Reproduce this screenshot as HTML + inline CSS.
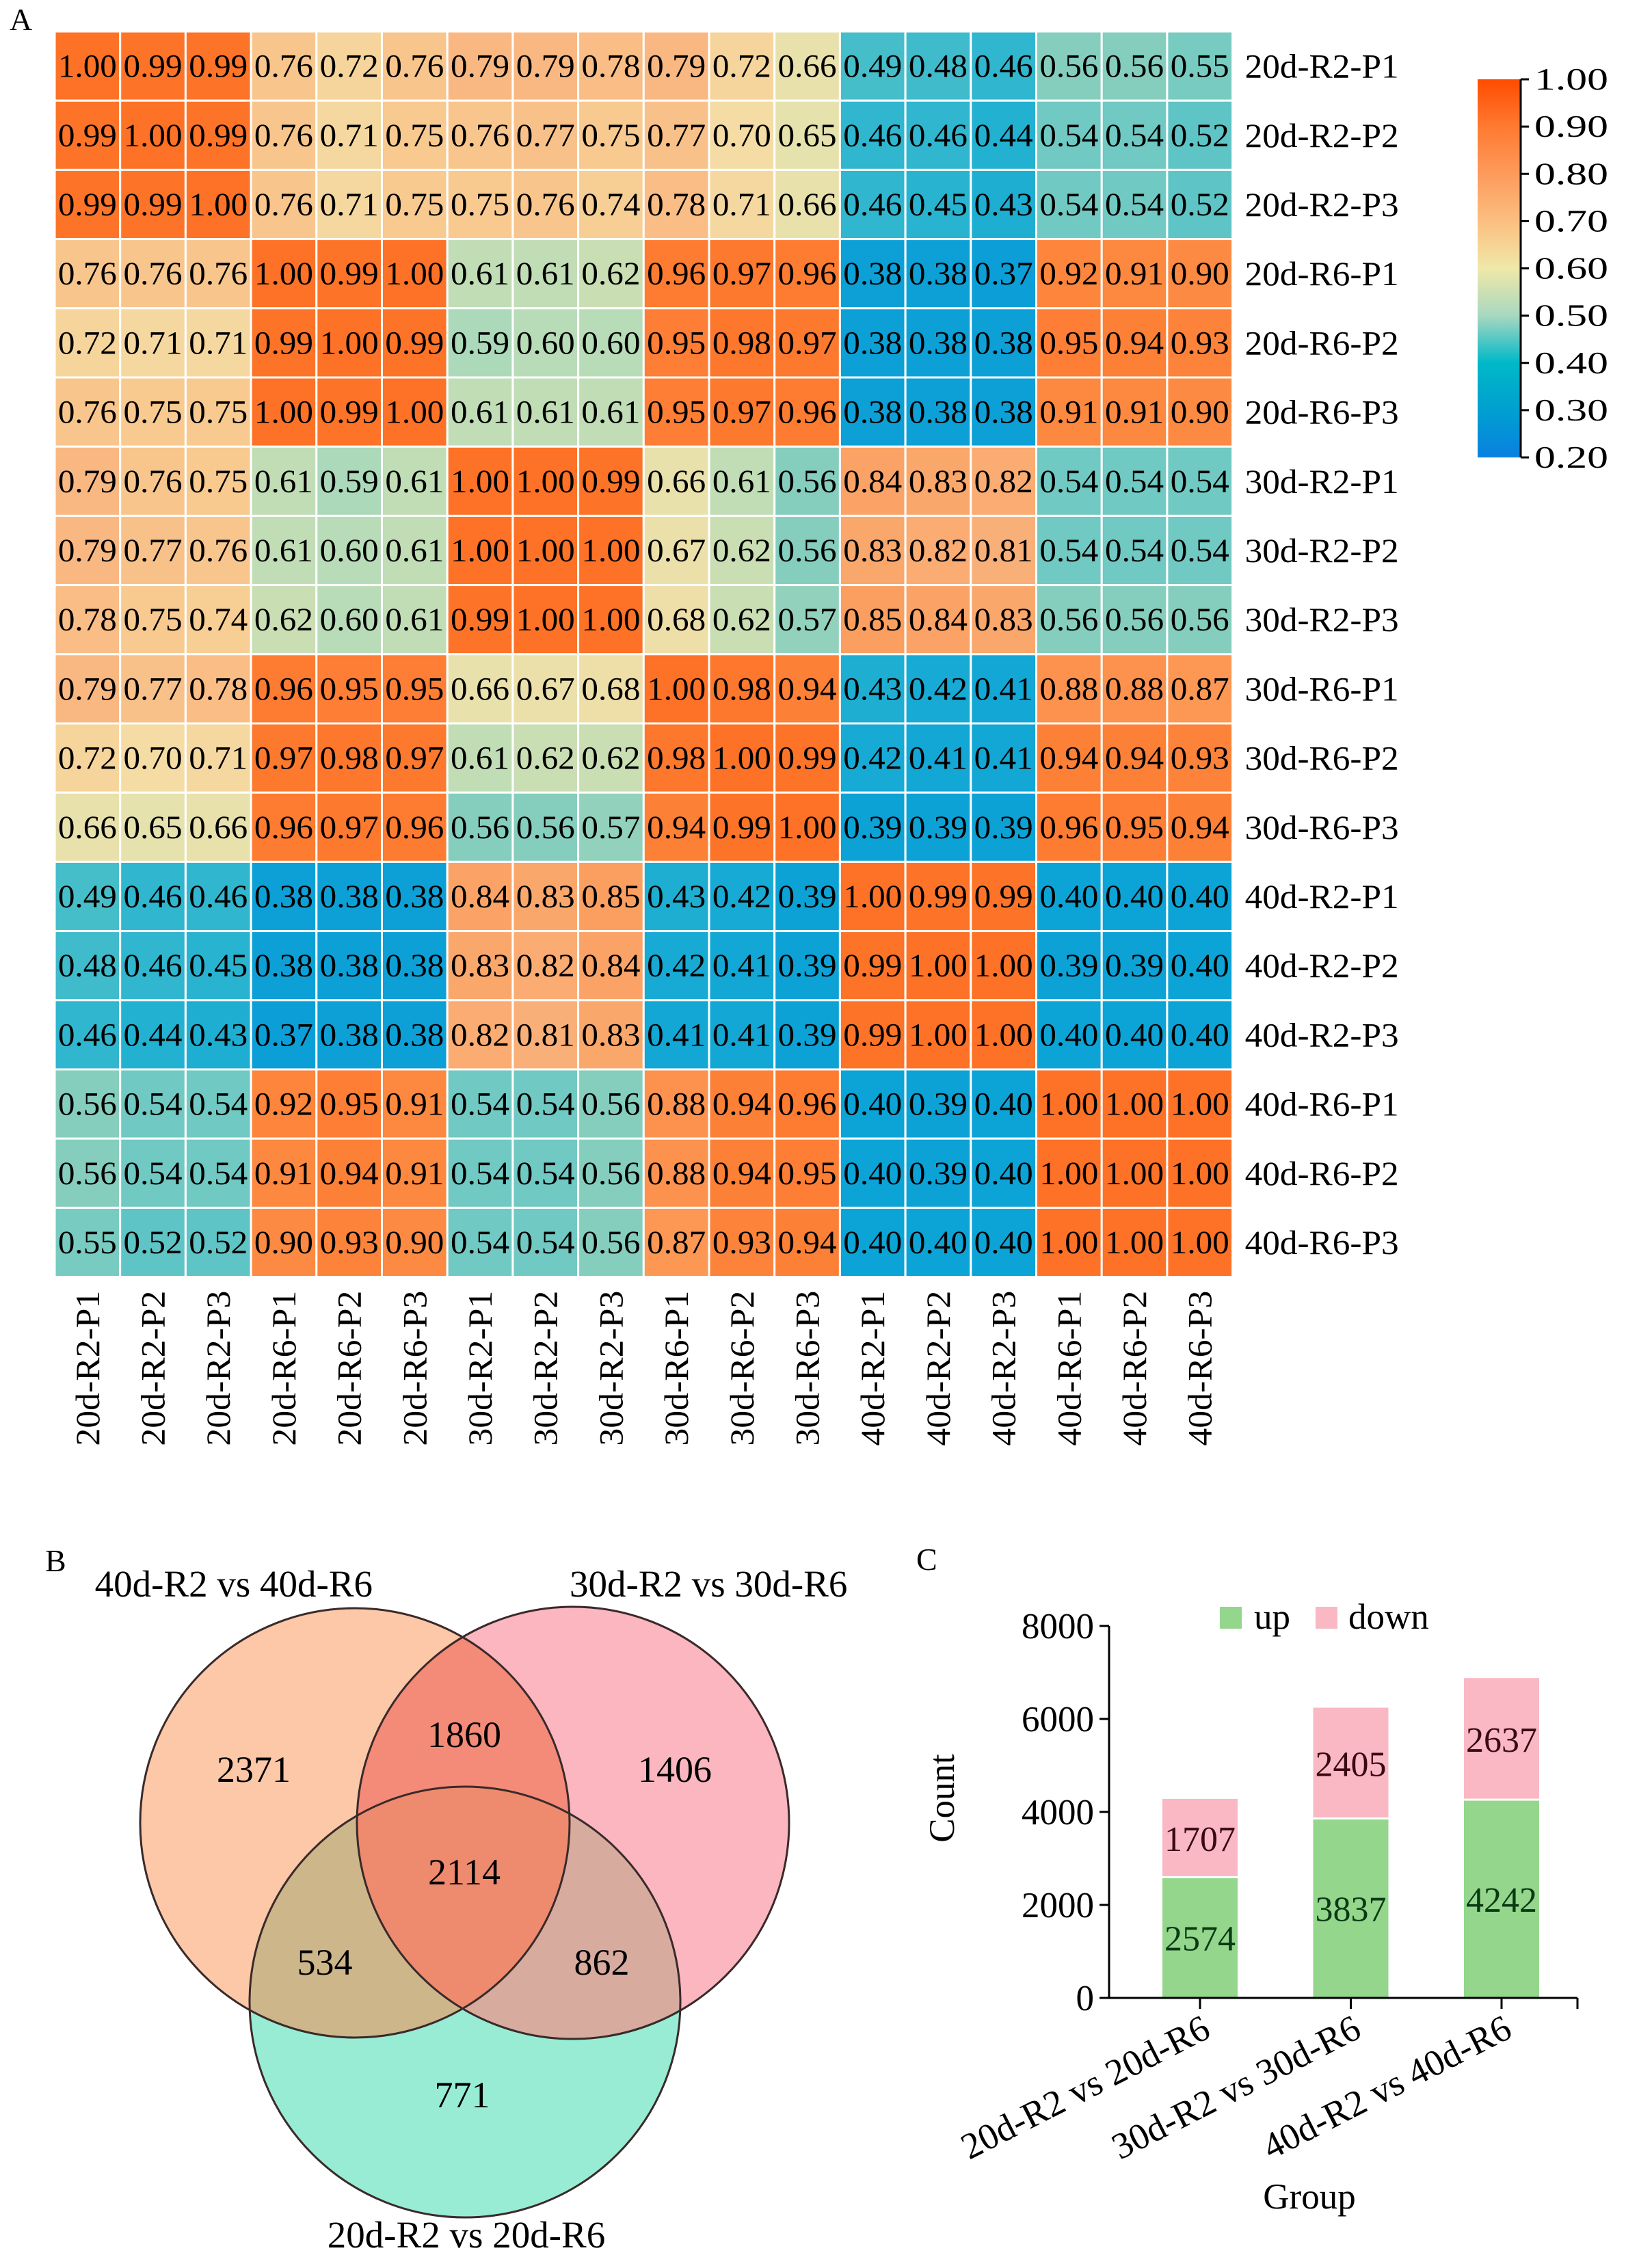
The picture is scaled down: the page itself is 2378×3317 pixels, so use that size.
<!DOCTYPE html>
<html><head><meta charset="utf-8"><style>
html,body{margin:0;padding:0;background:#fff}
svg{display:block;font-family:"Liberation Serif",serif}
</style></head><body>
<svg id="fig" width="2378" height="3317" viewBox="0 0 2378 3317" xmlns="http://www.w3.org/2000/svg">
<defs>
<linearGradient id="cbar" x1="0" y1="1" x2="0" y2="0">
<stop offset="0" stop-color="#0a80e0"/><stop offset="0.125" stop-color="#00a0d0"/><stop offset="0.25" stop-color="#00b8c8"/>
<stop offset="0.375" stop-color="#a8d8c0"/><stop offset="0.5" stop-color="#f0e8a8"/><stop offset="0.625" stop-color="#fbbf80"/>
<stop offset="0.75" stop-color="#fd9a5c"/><stop offset="0.875" stop-color="#ff7a30"/><stop offset="1" stop-color="#ff4c00"/>
</linearGradient>
<clipPath id="clipO"><circle cx="519" cy="2666" r="314"/></clipPath>
<clipPath id="clipP"><circle cx="838" cy="2666" r="316"/></clipPath>
</defs>
<text x="14" y="44" font-size="46">A</text>
<g id="heat"></g>
<g id="cb">
<rect x="2161" y="116" width="63" height="553" fill="url(#cbar)"/>
</g>
<g id="venn">
<text x="66" y="2298" font-size="46">B</text>
<circle cx="519" cy="2666" r="314" fill="#fcc8a8"/>
<circle cx="838" cy="2666" r="316" fill="#fbb6c0"/>
<circle cx="680" cy="2928" r="315" fill="#98ecd4"/>
<circle cx="838" cy="2666" r="316" fill="#f48a78" clip-path="url(#clipO)"/>
<circle cx="680" cy="2928" r="315" fill="#cdb68a" clip-path="url(#clipO)"/>
<circle cx="680" cy="2928" r="315" fill="#d8ab9f" clip-path="url(#clipP)"/>
<g clip-path="url(#clipP)"><circle cx="680" cy="2928" r="315" fill="#ee8a6e" clip-path="url(#clipO)"/></g>
<g fill="none" stroke="#3a2a2a" stroke-width="3">
<circle cx="519" cy="2666" r="314"/><circle cx="838" cy="2666" r="316"/><circle cx="680" cy="2928" r="315"/>
</g>
<g font-size="54" text-anchor="middle">
<text x="545" y="2335" font-size="55" text-anchor="end">40d-R2 vs 40d-R6</text>
<text x="833" y="2335" font-size="55" text-anchor="start">30d-R2 vs 30d-R6</text>
<text x="682" y="3287" font-size="55">20d-R2 vs 20d-R6</text>
<text x="371" y="2606">2371</text>
<text x="679" y="2555">1860</text>
<text x="987" y="2606">1406</text>
<text x="679" y="2756">2114</text>
<text x="475" y="2888">534</text>
<text x="880" y="2888">862</text>
<text x="676" y="3082">771</text>
</g>
</g>
<g id="bars">
<text x="1340" y="2296" font-size="46">C</text>
</g>
</svg>
<script>
const NS="http://www.w3.org/2000/svg";
const labels=["20d-R2-P1","20d-R2-P2","20d-R2-P3","20d-R6-P1","20d-R6-P2","20d-R6-P3","30d-R2-P1","30d-R2-P2","30d-R2-P3","30d-R6-P1","30d-R6-P2","30d-R6-P3","40d-R2-P1","40d-R2-P2","40d-R2-P3","40d-R6-P1","40d-R6-P2","40d-R6-P3"];
const r01=[1.00,0.99,0.99,0.76,0.72,0.76,0.79,0.79,0.78,0.79,0.72,0.66,0.49,0.48,0.46,0.56,0.56,0.55];
const r02=[0.99,1.00,0.99,0.76,0.71,0.75,0.76,0.77,0.75,0.77,0.70,0.65,0.46,0.46,0.44,0.54,0.54,0.52];
const r03=[0.99,0.99,1.00,0.76,0.71,0.75,0.75,0.76,0.74,0.78,0.71,0.66,0.46,0.45,0.43,0.54,0.54,0.52];
const r04=[0.76,0.76,0.76,1.00,0.99,1.00,0.61,0.61,0.62,0.96,0.97,0.96,0.38,0.38,0.37,0.92,0.91,0.90];
const r05=[0.72,0.71,0.71,0.99,1.00,0.99,0.59,0.60,0.60,0.95,0.98,0.97,0.38,0.38,0.38,0.95,0.94,0.93];
const r06=[0.76,0.75,0.75,1.00,0.99,1.00,0.61,0.61,0.61,0.95,0.97,0.96,0.38,0.38,0.38,0.91,0.91,0.90];
const r07=[0.79,0.76,0.75,0.61,0.59,0.61,1.00,1.00,0.99,0.66,0.61,0.56,0.84,0.83,0.82,0.54,0.54,0.54];
const r08=[0.79,0.77,0.76,0.61,0.60,0.61,1.00,1.00,1.00,0.67,0.62,0.56,0.83,0.82,0.81,0.54,0.54,0.54];
const r09=[0.78,0.75,0.74,0.62,0.60,0.61,0.99,1.00,1.00,0.68,0.62,0.57,0.85,0.84,0.83,0.56,0.56,0.56];
const r10=[0.79,0.77,0.78,0.96,0.95,0.95,0.66,0.67,0.68,1.00,0.98,0.94,0.43,0.42,0.41,0.88,0.88,0.87];
const r11=[0.72,0.70,0.71,0.97,0.98,0.97,0.61,0.62,0.62,0.98,1.00,0.99,0.42,0.41,0.41,0.94,0.94,0.93];
const r12=[0.66,0.65,0.66,0.96,0.97,0.96,0.56,0.56,0.57,0.94,0.99,1.00,0.39,0.39,0.39,0.96,0.95,0.94];
const r13=[0.49,0.46,0.46,0.38,0.38,0.38,0.84,0.83,0.85,0.43,0.42,0.39,1.00,0.99,0.99,0.40,0.40,0.40];
const r14=[0.48,0.46,0.45,0.38,0.38,0.38,0.83,0.82,0.84,0.42,0.41,0.39,0.99,1.00,1.00,0.39,0.39,0.40];
const r15=[0.46,0.44,0.43,0.37,0.38,0.38,0.82,0.81,0.83,0.41,0.41,0.39,0.99,1.00,1.00,0.40,0.40,0.40];
const r16=[0.56,0.54,0.54,0.92,0.95,0.91,0.54,0.54,0.56,0.88,0.94,0.96,0.40,0.39,0.40,1.00,1.00,1.00];
const r17=[0.56,0.54,0.54,0.91,0.94,0.91,0.54,0.54,0.56,0.88,0.94,0.95,0.40,0.39,0.40,1.00,1.00,1.00];
const r18=[0.55,0.52,0.52,0.90,0.93,0.90,0.54,0.54,0.56,0.87,0.93,0.94,0.40,0.40,0.40,1.00,1.00,1.00];
const matrix=[r01,r02,r03,r04,r05,r06,r07,r08,r09,r10,r11,r12,r13,r14,r15,r16,r17,r18];
const cbTicks=[0.2,0.3,0.4,0.5,0.6,0.7,0.8,0.9,1.0];
const groups=["20d-R2 vs 20d-R6","30d-R2 vs 30d-R6","40d-R2 vs 40d-R6"];
const upVals=[2574,3837,4242];
const downVals=[1707,2405,2637];
const yTicks=[0,2000,4000,6000,8000];

function mk(tag,attrs,parent,txt){const e=document.createElementNS(NS,tag);for(const k in attrs)e.setAttribute(k,attrs[k]);if(txt!==undefined)e.textContent=txt;parent.appendChild(e);return e;}
const stops=[[0.2,[10,128,224]],[0.3,[10,144,218]],[0.4,[12,164,214]],[0.45,[40,180,208]],[0.5,[78,192,200]],[0.55,[120,203,192]],[0.6,[184,220,184]],[0.65,[230,226,174]],[0.7,[244,220,164]],[0.75,[248,202,144]],[0.8,[249,180,126]],[0.9,[253,138,66]],[1.0,[253,114,38]]];
function color(v){for(let i=0;i<stops.length-1;i++){const a=stops[i],b=stops[i+1];if(v<=b[0]){const t=Math.max(0,(v-a[0])/(b[0]-a[0]));const c=a[1].map((x,j)=>Math.round(x+(b[1][j]-x)*t));return`rgb(${c})`;}}return"rgb(253,114,38)";}

// heatmap
const H=document.getElementById('heat');
const x0=80,y0=46,cw=95.7,ch=101.2,n=labels.length;
const cx=i=>x0+i*cw, cy=j=>y0+j*ch;
matrix.forEach((row,j)=>{row.forEach((v,i)=>{
 const r=mk('rect',{x:cx(i),y:cy(j),width:cw,height:ch,fill:color(v),stroke:'#fff','stroke-width':3},H);
 
 
 const t=mk('text',{x:cx(i)+cw/2,y:cy(j)+ch/2+16,'font-size':48,'text-anchor':'middle',textLength:86,lengthAdjust:'spacingAndGlyphs'},H,v.toFixed(2));
 
 
});});
labels.forEach((l,j)=>{
 const t=mk('text',{x:x0+n*cw+18,y:cy(j)+ch/2+17,'font-size':50,textLength:225,lengthAdjust:'spacingAndGlyphs'},H,l);
 
 
 const px=cx(j)+cw/2+17,py=y0+n*ch+20;
 const c=mk('text',{x:px,y:py,'font-size':50,'text-anchor':'end',textLength:227,lengthAdjust:'spacingAndGlyphs',transform:`rotate(-90 ${px} ${py})`},H,l);
 
 
});
// colorbar
const CB=document.getElementById('cb');
const cbTop=116,cbBot=669,cbX=2224;
const cbY=v=>cbBot-(v-0.2)/0.8*(cbBot-cbTop);
mk('line',{x1:cbX,y1:cbTop,x2:cbX,y2:cbBot,stroke:'#000','stroke-width':3},CB);
cbTicks.forEach(v=>{
 mk('line',{x1:cbX,y1:cbY(v),x2:cbX+12,y2:cbY(v),stroke:'#000','stroke-width':3},CB);
 const t=mk('text',{x:cbX+20,y:cbY(v)+15,'font-size':46,textLength:108,lengthAdjust:'spacingAndGlyphs'},CB,v.toFixed(2));
 
 
});
// bar chart
const B=document.getElementById('bars');
const ax=1622,yb=2922,yt=2378,axR=2307,bw=110;
const yS=v=>yb-v/8000*(yb-yt);
const bStart=1755,bStep=220.5;
const xS=i=>bStart+i*bStep;
groups.forEach((g,i)=>{
 const x=xS(i);
 const u=mk('rect',{x:x-bw/2,y:yS(upVals[i]),width:bw,height:yb-yS(upVals[i]),fill:'#93d68c'},B);
 
 
 const d=mk('rect',{x:x-bw/2,y:yS(upVals[i]+downVals[i]),width:bw,height:yS(upVals[i])-yS(upVals[i]+downVals[i])-3,fill:'#f9b8c4'},B);
 
 
 const lu=mk('text',{x:x,y:yS(upVals[i]/2)+18,'font-size':52,'text-anchor':'middle',fill:'#0a3a14'},B,upVals[i]);
 
 
 const ld=mk('text',{x:x,y:yS(upVals[i]+downVals[i]/2)+18,'font-size':52,'text-anchor':'middle',fill:'#3a0a14'},B,downVals[i]);
 
 
 mk('line',{x1:x,y1:yb,x2:x,y2:yb+16,stroke:'#000','stroke-width':3},B);
 const gl=mk('text',{x:x+18,y:yb+56,'font-size':54,'text-anchor':'end',transform:`rotate(-27 ${x+18} ${yb+56})`},B,g);
 
 
});
mk('line',{x1:ax,y1:yt,x2:ax,y2:yb,stroke:'#000','stroke-width':3},B);
mk('line',{x1:ax,y1:yb,x2:axR,y2:yb,stroke:'#000','stroke-width':3},B);
mk('line',{x1:axR,y1:yb,x2:axR,y2:yb+16,stroke:'#000','stroke-width':3},B);
yTicks.forEach(v=>{
 mk('line',{x1:ax-14,y1:yS(v),x2:ax,y2:yS(v),stroke:'#000','stroke-width':3},B);
 const t=mk('text',{x:ax-22,y:yS(v)+18,'font-size':53,'text-anchor':'end'},B,v);
 
 
});
const yl=mk('text',{x:1395,y:2630,'font-size':53,'text-anchor':'middle',transform:'rotate(-90 1395 2630)'},B,'Count');


const xl=mk('text',{x:1915,y:3230,'font-size':53,'text-anchor':'middle'},B,'Group');


const lg1=mk('rect',{x:1784,y:2350,width:32,height:32,fill:'#93d68c'},B);


const lt1=mk('text',{x:1834,y:2382,'font-size':53},B,'up');


const lg2=mk('rect',{x:1924,y:2350,width:32,height:32,fill:'#f9b8c4'},B);


const lt2=mk('text',{x:1972,y:2382,'font-size':53},B,'down');


</script>
</body></html>
